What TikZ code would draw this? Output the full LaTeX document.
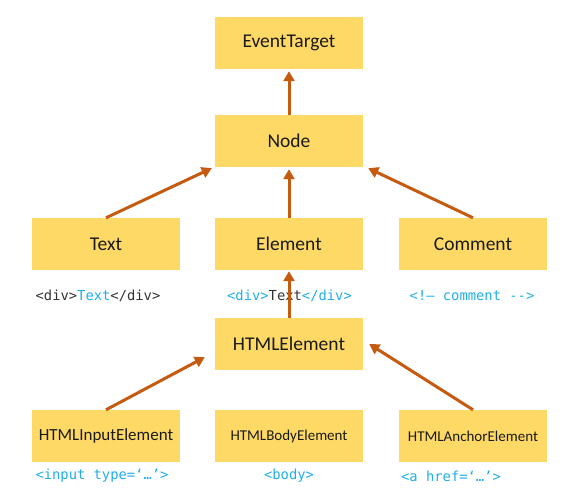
\documentclass[tikz,border=0pt]{standalone}
\usepackage{fontspec}
\setmainfont{Carlito}
\newfontfamily\codefont{DejaVu Sans Mono}
\usetikzlibrary{arrows.meta}
\definecolor{boxyellow}{HTML}{FFD966}
\definecolor{arrowc}{HTML}{C55A11}
\definecolor{codeblue}{HTML}{1FAEEA}
\definecolor{codedark}{HTML}{333333}
\definecolor{boxtext}{HTML}{1A1A1A}
\tikzset{
  cls/.style={fill=boxyellow, minimum width=148bp, minimum height=52bp, inner sep=0pt, text=boxtext, font=\fontsize{19.5bp}{21bp}\selectfont},
  clsS/.style={cls, font=\fontsize{15bp}{17bp}\selectfont},
  clsM/.style={cls, font=\fontsize{17bp}{19bp}\selectfont},
  code/.style={inner sep=0pt, text=codeblue, font=\codefont\fontsize{13.8bp}{15bp}\selectfont},
  inh/.style={draw=arrowc, line width=3bp, -{Triangle[width=11bp,length=10bp]}},
}
\begin{document}
\begin{tikzpicture}[x=1bp,y=-1bp]
\useasboundingbox (0,0) rectangle (574,502);
\node[cls] (et) at (289,43) {EventTarget};
\node[cls] (nd) at (289,141) {Node};
\node[cls] (tx) at (106,244) {Text};
\node[cls] (el) at (289,244) {Element};
\node[cls] (cm) at (473,244) {Comment};
\node[cls] (he) at (289,344) {HTMLElement};
\node[clsM] (hi) at (106,436) {HTMLInputElement};
\node[clsS] (hb) at (289,436) {HTMLBodyElement};
\node[clsS] (ha) at (473,436) {HTMLAnchorElement};

\node[code] (ltx) at (98,296) {\textcolor{codedark}{<div>}Text\textcolor{codedark}{</div>}};
\node[code] (lel) at (289.5,296) {<div>\textcolor{codedark}{Text}</div>};
\node[code] (lcm) at (472,296) {<!– comment -->};
\node[code] (lhi) at (102,476) {<input type=‘…’>};
\node[code] (lhb) at (289,476) {<body>};
\node[code] (lha) at (451,476) {<a href=‘…’>};

\draw[inh, shorten >=2bp] (nd.north) -- (et.south);
\draw[inh, shorten >=2bp] (el.north) -- (nd.south);
\draw[inh, shorten >=1bp] (he.north) -- (el.south);
\draw[inh] (tx.north) -- ([shift={(-3bp,-1bp)}]nd.south west);
\draw[inh] (cm.north) -- ([shift={(5bp,-1bp)}]nd.south east);
\draw[inh] (hi.north) -- ([shift={(-10bp,13bp)}]he.south west);
\draw[inh] (ha.north) -- ([shift={(6bp,0bp)}]he.east);
\end{tikzpicture}
\end{document}
